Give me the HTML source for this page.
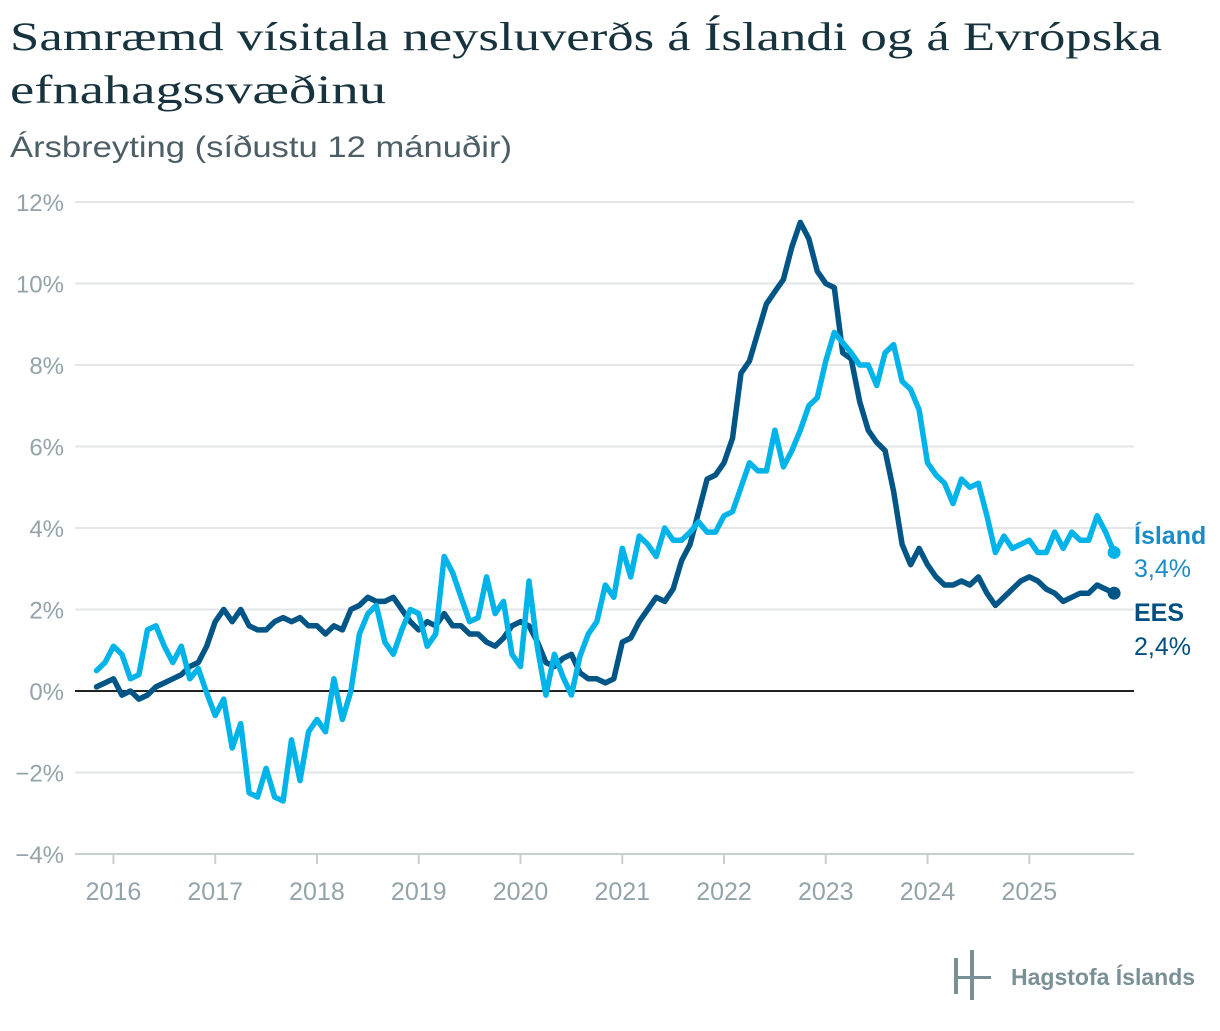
<!DOCTYPE html>
<html><head><meta charset="utf-8"><style>
body{margin:0;background:#fff;width:1220px;height:1026px;overflow:hidden}
svg text{font-family:"Liberation Sans",sans-serif}
</style></head><body>
<svg width="1220" height="1026" viewBox="0 0 1220 1026" xmlns="http://www.w3.org/2000/svg">
<text x="10" y="50" font-size="40" fill="#17333d" textLength="1152" lengthAdjust="spacingAndGlyphs" style="font-family:'Liberation Serif',serif">Samræmd vísitala neysluverðs á Íslandi og á Evrópska</text>
<text x="10" y="103" font-size="40" fill="#17333d" textLength="376" lengthAdjust="spacingAndGlyphs" style="font-family:'Liberation Serif',serif">efnahagssvæðinu</text>
<text x="10" y="157" font-size="30" fill="#4d5f66" textLength="502" lengthAdjust="spacingAndGlyphs">Ársbreyting (síðustu 12 mánuðir)</text>
<g id="grid"></g>
<g id="xaxis"></g>
<g id="series"></g>
<g>
<rect x="954" y="958" width="4" height="36" fill="#7a9097"/>
<rect x="970" y="950" width="4" height="50" fill="#7a9097"/>
<rect x="954" y="976" width="37" height="3" fill="#7a9097"/>
<text x="1011" y="985" font-size="23" font-weight="bold" fill="#7a9097">Hagstofa Íslands</text>
</g>
</svg>
<script>
const yTicks=[-4,-2,0,2,4,6,8,10,12];
const yTickLabels=["−4%","−2%","0%","2%","4%","6%","8%","10%","12%"];
const xYears=[2016,2017,2018,2019,2020,2021,2022,2023,2024,2025];
const startYear=2015, startMonth=10; // Nov 2015 (0-based month)
const iceland=[0.5,0.7,1.1,0.9,0.3,0.4,1.5,1.6,1.1,0.7,1.1,0.3,0.55,-0.05,-0.6,-0.2,-1.4,-0.8,-2.5,-2.6,-1.9,-2.6,-2.7,-1.2,-2.2,-1.0,-0.7,-1.0,0.3,-0.7,0.0,1.4,1.9,2.1,1.2,0.9,1.5,2.0,1.9,1.1,1.4,3.3,2.9,2.3,1.7,1.8,2.8,1.9,2.2,0.9,0.6,2.7,1.05,-0.1,0.9,0.35,-0.1,0.85,1.4,1.7,2.6,2.3,3.5,2.8,3.8,3.6,3.3,4.0,3.7,3.7,3.9,4.15,3.9,3.9,4.3,4.4,5.0,5.6,5.4,5.4,6.4,5.5,5.9,6.4,7.0,7.2,8.1,8.8,8.55,8.3,8.0,8.0,7.5,8.3,8.5,7.6,7.4,6.9,5.6,5.3,5.1,4.6,5.2,5.0,5.1,4.3,3.4,3.8,3.5,3.6,3.7,3.4,3.4,3.9,3.5,3.9,3.7,3.7,4.3,3.9,3.4];
const ees=[0.1,0.2,0.3,-0.1,0.0,-0.2,-0.1,0.1,0.2,0.3,0.4,0.6,0.7,1.1,1.7,2.0,1.7,2.0,1.6,1.5,1.5,1.7,1.8,1.7,1.8,1.6,1.6,1.4,1.6,1.5,2.0,2.1,2.3,2.2,2.2,2.3,2.0,1.7,1.5,1.7,1.6,1.9,1.6,1.6,1.4,1.4,1.2,1.1,1.3,1.6,1.7,1.6,1.2,0.7,0.6,0.8,0.9,0.45,0.3,0.3,0.2,0.3,1.2,1.3,1.7,2.0,2.3,2.2,2.5,3.2,3.6,4.4,5.2,5.3,5.6,6.2,7.8,8.1,8.8,9.5,9.8,10.1,10.9,11.5,11.1,10.3,10.0,9.9,8.3,8.15,7.1,6.4,6.1,5.9,4.9,3.6,3.1,3.5,3.1,2.8,2.6,2.6,2.7,2.6,2.8,2.4,2.1,2.3,2.5,2.7,2.8,2.7,2.5,2.4,2.2,2.3,2.4,2.4,2.6,2.5,2.4];
const NS="http://www.w3.org/2000/svg";
const x0=96.5, mStep=8.48, yZero=691, yPer=40.75, gridL=75, gridR=1134;
function xScale(i){return x0+i*mStep;}
function yScale(v){return yZero-v*yPer;}
function xYear(y){return xScale((y-startYear)*12-startMonth);}
function mk(tag,attrs,parent){const e=document.createElementNS(NS,tag);for(const k in attrs)e.setAttribute(k,attrs[k]);parent.appendChild(e);return e;}
const grid=document.getElementById('grid');
yTicks.forEach((t,k)=>{
  const y=yScale(t);
  const l=mk('line',{x1:gridL,x2:gridR,y1:y,y2:y,stroke:t===0?'#222':(t===-4?'#c8cfd2':'#e3e5e7'),'stroke-width':2},grid);
  
  
  const tx=mk('text',{x:64,y:y+9,'text-anchor':'end','font-size':24,fill:'#93a3aa'},grid);
  tx.textContent=yTickLabels[k];
  
  
});
const xa=document.getElementById('xaxis');
xYears.forEach(yr=>{
  const x=xYear(yr);
  const tk=mk('line',{x1:x,x2:x,y1:855,y2:864,stroke:'#c8cfd2','stroke-width':2},xa);
  
  
  const tx=mk('text',{x:x,y:900,'text-anchor':'middle','font-size':25,fill:'#93a3aa'},xa);
  tx.textContent=yr;
  
  
});
const sg=document.getElementById('series');
function drawSeries(arr,color,name){
  const d=arr.map((v,i)=>(i?'L':'M')+xScale(i).toFixed(1)+','+yScale(v).toFixed(1)).join('');
  const p=mk('path',{d:d,fill:'none',stroke:color,'stroke-width':5.5,'stroke-linejoin':'round','stroke-linecap':'round'},sg);
  
  
  const n=arr.length-1;
  const c=mk('circle',{cx:xScale(n),cy:yScale(arr[n]),r:6.5,fill:color},sg);
  
  
}
drawSeries(ees,'#005587','ees');
drawSeries(iceland,'#00b4ea','iceland');
function label(txt,y,color,bold,name){
  const t=mk('text',{x:1134,y:y,'font-size':25,fill:color,'font-weight':bold?'bold':'normal'},sg);
  t.textContent=txt;
  
  
}
const li=iceland[iceland.length-1], le=ees[ees.length-1];
label('Ísland',544,'#1b8cc4',true,'iceland-label');
label(li.toFixed(1).replace('.',',')+'%',577,'#1b8cc4',false,'iceland-value');
label('EES',621,'#004f7f',true,'ees-label');
label(le.toFixed(1).replace('.',',')+'%',655,'#004f7f',false,'ees-value');
</script>
</body></html>
